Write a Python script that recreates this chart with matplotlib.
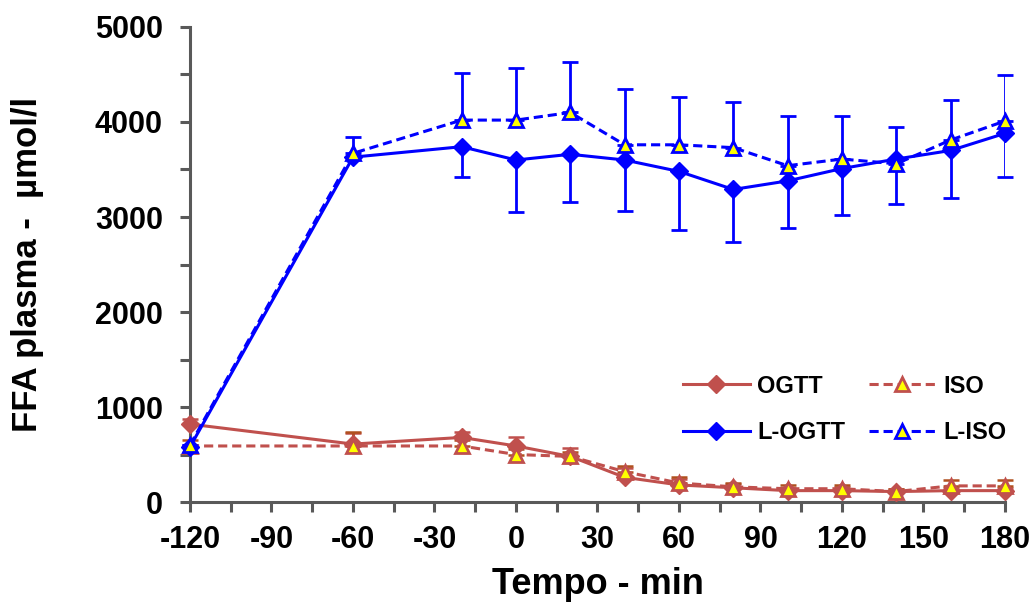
import numpy as np
import matplotlib.pyplot as plt
from matplotlib.ticker import MultipleLocator

plt.rcParams['font.family'] = ['Liberation Sans', 'DejaVu Sans']
plt.rcParams['font.weight'] = 'bold'
plt.rcParams['axes.unicode_minus'] = False

tempo = [-120, -60, -20, 0, 20, 40, 60, 80, 100, 120, 140, 160, 180]

ogtt = [820, 610, 680, 590, 480, 260, 180, 150, 120, 120, 110, 120, 120]
ogtt_err = [50, 120, 60, 90, 90, 100, 60, 40, 30, 40, 30, 30, 30]

iso = [590, 590, 590, 500, 480, 320, 200, 160, 140, 140, 110, 170, 170]
iso_err = [60, 150, 60, 60, 50, 60, 60, 40, 40, 40, 30, 60, 60]

l_ogtt = [580, 3630, 3740, 3600, 3660, 3600, 3480, 3290, 3380, 3510, 3610, 3700, 3880]
l_ogtt_err = [0, 0, 320, 550, 500, 540, 620, 550, 500, 490, 470, 500, 460]

l_iso = [600, 3670, 4020, 4020, 4100, 3760, 3760, 3730, 3540, 3610, 3560, 3810, 4010]
l_iso_err = [0, 170, 500, 550, 530, 590, 500, 480, 520, 450, 390, 420, 480]

red = '#C0504D'
blue = '#0000FF'
zeros = np.zeros(len(tempo))

fig = plt.figure(figsize=(10.36, 6.05), dpi=100)
ax = fig.add_axes([0.1834, 0.1702, 0.7866, 0.7852])

# error bars: red ones upward, blue ISO upward and blue OGTT downward
ax.errorbar(tempo, ogtt, yerr=[zeros, ogtt_err], fmt='none', ecolor=red, elinewidth=1.8, capsize=5.5, capthick=1.8)
ax.errorbar(tempo, iso, yerr=[zeros, iso_err], fmt='none', ecolor='#B0501E', elinewidth=1.8, capsize=5.5, capthick=1.8)
ax.errorbar(tempo, l_ogtt, yerr=[l_ogtt_err, zeros], fmt='none', ecolor=blue, elinewidth=2, capsize=5.5, capthick=2)
ax.errorbar(tempo, l_iso, yerr=[zeros, l_iso_err], fmt='none', ecolor=blue, elinewidth=2, capsize=5.5, capthick=2)

l1, = ax.plot(tempo, ogtt, color=red, lw=2.2, marker='D', ms=9, mfc=red, mec=red, label='OGTT')
l2, = ax.plot(tempo, iso, color=red, lw=2.2, ls='--', dashes=(3, 1.6), marker='^', ms=10,
              mfc='#FFFF00', mec=red, mew=2, label='ISO')
l3, = ax.plot(tempo, l_ogtt, color=blue, lw=2.2, marker='D', ms=9.5, mfc=blue, mec=blue, label='L-OGTT')
l4, = ax.plot(tempo, l_iso, color=blue, lw=2.2, ls='--', dashes=(3, 1.6), marker='^', ms=10,
              mfc='#FFFF00', mec=blue, mew=2, label='L-ISO')

ax.set_xlim(-120, 180)
ax.set_ylim(0, 5000)
ax.xaxis.set_major_locator(MultipleLocator(30))
ax.xaxis.set_minor_locator(MultipleLocator(15))
ax.yaxis.set_major_locator(MultipleLocator(1000))
ax.yaxis.set_minor_locator(MultipleLocator(500))

for s in ['top', 'right']:
    ax.spines[s].set_visible(False)
for s in ['left', 'bottom']:
    ax.spines[s].set_color('#595959')
    ax.spines[s].set_linewidth(2.2)
    ax.spines[s].set_zorder(0)

ax.tick_params(axis='both', which='both', direction='out', color='#595959', width=2.2, length=7.5)
ax.tick_params(axis='x', which='both', labelsize=22, pad=9)
ax.tick_params(axis='y', which='both', labelsize=22, pad=12)

ax.set_xlabel('Tempo - min', fontsize=26, fontweight='bold', labelpad=9)
ax.set_ylabel('FFA plasma -  µmol/l', fontsize=25, fontweight='bold', labelpad=37)

ax.legend([l1, l3, l2, l4], ['OGTT', 'L-OGTT', 'ISO', 'L-ISO'], ncol=2, frameon=False,
          loc='center left', bbox_to_anchor=(0.59, 0.195), borderpad=0,
          handlelength=2.85, handletextpad=0.3, columnspacing=1.0, labelspacing=1.0,
          prop={'weight': 'bold', 'size': 17})

for ln in ax.lines:
    ln.set_clip_on(False)

fig.savefig('out.png', dpi=100)
